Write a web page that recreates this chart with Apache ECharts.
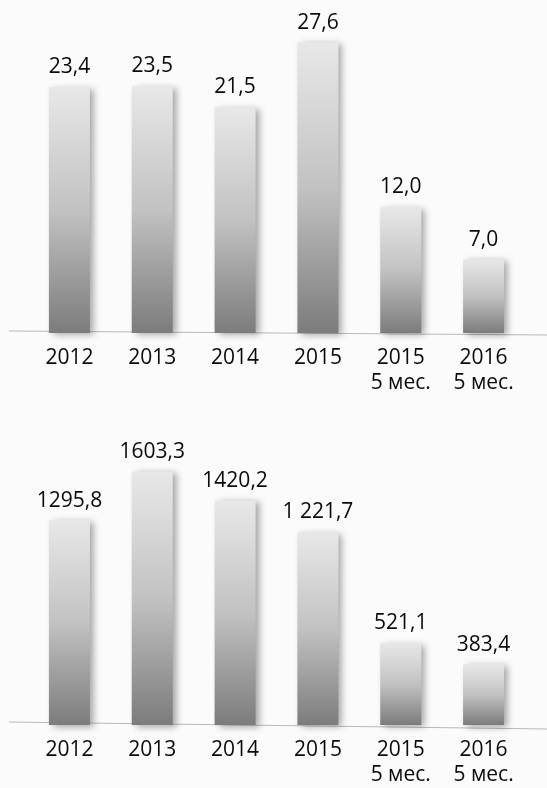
<!DOCTYPE html>
<html>
<head>
<meta charset="utf-8">
<script src="https://cdn.jsdelivr.net/npm/echarts@6/dist/echarts.min.js"></script>
<style>
    html, body { margin: 0; padding: 0; background: #fbfbfb; }
    #chart { width: 547px; height: 788px; }
</style>
</head>
<body>
<div id="chart"></div>
<script>
var categories = ['2012', '2013', '2014', '2015', '2015\n5 мес.', '2016\n5 мес.'];

// верхний график
var topValues = [23.4, 23.5, 21.5, 27.6, 12.0, 7.0];
var topLabels = ['23,4', '23,5', '21,5', '27,6', '12,0', '7,0'];

// нижний график
var bottomValues = [1295.8, 1603.3, 1420.2, 1221.7, 521.1, 383.4];
var bottomLabels = ['1295,8', '1603,3', '1420,2', '1 221,7', '521,1', '383,4'];

var font = '"Open Sans", "Liberation Sans", sans-serif';

var chart = echarts.init(document.getElementById('chart'));

var barStyle = {
    color: new echarts.graphic.LinearGradient(0, 0, 0, 1, [
        {offset: 0, color: '#e8e8e8'},
        {offset: 0.5, color: '#c2c2c2'},
        {offset: 1, color: '#7c7c7c'}
    ]),
    shadowColor: 'rgba(0,0,0,0.35)',
    shadowBlur: 7,
    shadowOffsetX: 4,
    shadowOffsetY: 2
};

function makeSeries(idx, values, labels) {
    return {
        type: 'bar',
        xAxisIndex: idx,
        yAxisIndex: idx,
        data: values,
        barWidth: 41,
        itemStyle: barStyle,
        label: {
            show: true,
            position: 'top',
            distance: 9,
            fontFamily: font,
            fontSize: 21,
            color: '#0a0a0a',
            formatter: function (p) { return labels[p.dataIndex]; }
        }
    };
}

function makeXAxis(idx) {
    return {
        type: 'category',
        gridIndex: idx,
        data: categories,
        axisLine: {show: false},
        axisTick: {show: false},
        axisLabel: {
            fontFamily: font,
            fontSize: 21,
            color: '#0a0a0a',
            lineHeight: 25,
            margin: 13,
            verticalAlign: 'top'
        }
    };
}

var option = {
    backgroundColor: '#fbfbfb',
    animation: false,
    grid: [
        {left: 28, right: 22, top: 33, height: 300},
        {left: 28, right: 22, top: 468, height: 260}
    ],
    xAxis: [makeXAxis(0), makeXAxis(1)],
    yAxis: [
        {type: 'value', gridIndex: 0, min: 0, max: 28.5, show: false},
        {type: 'value', gridIndex: 1, min: 0, max: 1625, show: false}
    ],
    graphic: [
        {type: 'line', z: 0, shape: {x1: 9, y1: 331, x2: 547, y2: 335},
            style: {stroke: '#b8b8b8', lineWidth: 1}},
        {type: 'line', z: 0, shape: {x1: 9, y1: 722, x2: 547, y2: 729},
            style: {stroke: '#b8b8b8', lineWidth: 1}}
    ],
    series: [
        makeSeries(0, topValues, topLabels),
        makeSeries(1, bottomValues, bottomLabels)
    ]
};

chart.setOption(option);
</script>
</body>
</html>
